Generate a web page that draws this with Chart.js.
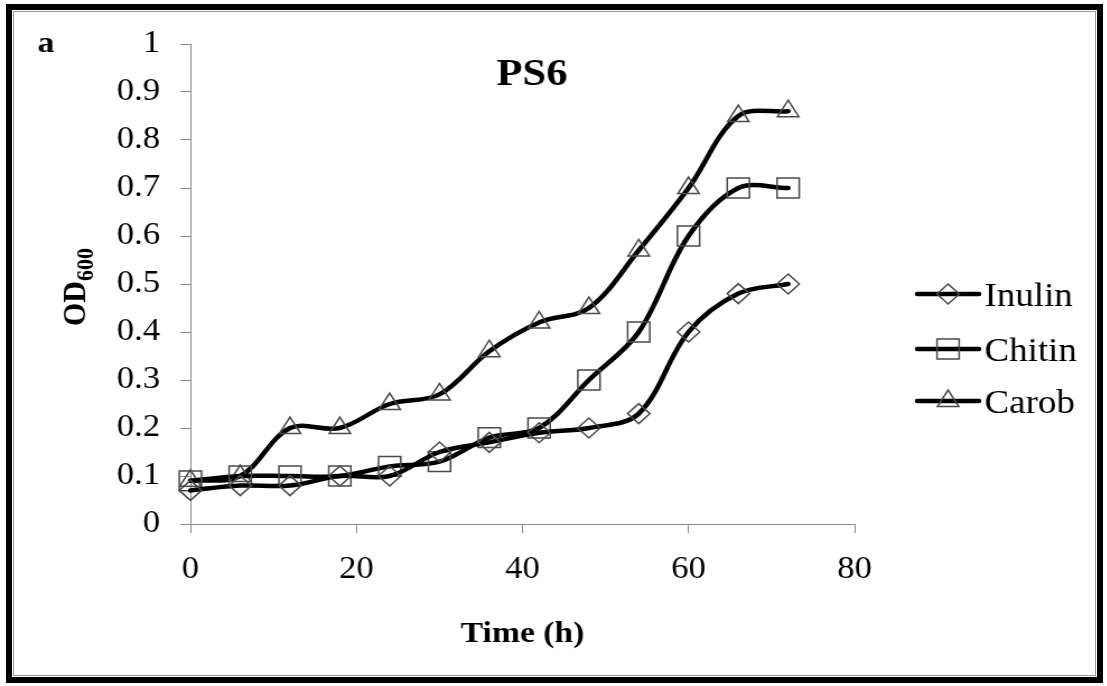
<!DOCTYPE html>
<html>
<head>
<meta charset="utf-8">
<script src="https://cdn.jsdelivr.net/npm/chart.js@4.4.1/dist/chart.umd.min.js"></script>
<style>
  html, body { margin: 0; padding: 0; background: #fff; overflow: hidden; }
  #frame {
    position: absolute; left: 6px; top: 4px; width: 1085px; height: 667px;
    border: 6px solid #000; box-sizing: content-box; z-index: 2; pointer-events: none;
  }
  #frame::after {
    content: ''; position: absolute; left: 1px; top: 1px; right: 1px; bottom: 1px;
    border: 1px solid #9a9a9a;
  }
  /* the original picture is stretched a little sideways */
  #wrap { position: absolute; left: 0; top: 0; width: 988px; height: 686px;
          transform: scaleX(1.12); transform-origin: 0 0; }
</style>
</head>
<body>
<div id="frame"></div>
<div id="wrap"><canvas id="chart" width="988" height="686"></canvas></div>
<script>
// data
const hours  = [0, 6, 12, 18, 24, 30, 36, 42, 48, 54, 60, 66, 72];
const inulin = [0.07, 0.08, 0.08, 0.10, 0.10, 0.15, 0.17, 0.19, 0.20, 0.23, 0.40, 0.48, 0.50];
const chitin = [0.09, 0.10, 0.10, 0.10, 0.12, 0.13, 0.18, 0.20, 0.30, 0.40, 0.60, 0.70, 0.70];
const carob  = [0.09, 0.10, 0.20, 0.20, 0.25, 0.27, 0.36, 0.42, 0.45, 0.57, 0.70, 0.85, 0.86];
const seriesNames = ['Inulin', 'Chitin', 'Carob'];
const xTicks = [0, 20, 40, 60, 80];
const yTicks = [0, 0.1, 0.2, 0.3, 0.4, 0.5, 0.6, 0.7, 0.8, 0.9, 1];

const FONT = "'Liberation Serif', 'Times New Roman', serif";
const markerColor = '#4a4a4a';

function series(name, values, style, radius) {
    return {
        label: name,
        data: hours.map((h, i) => ({ x: h, y: values[i] })),
        borderColor: '#000',
        borderWidth: 4.5,
        borderCapStyle: 'round',
        borderJoinStyle: 'round',
        tension: 0.35,
        fill: false,
        clip: false,
        pointStyle: style,
        pointRadius: radius,
        pointBackgroundColor: 'rgba(0,0,0,0)',
        pointBorderColor: markerColor,
        pointBorderWidth: 1.5
    };
}

// marker shapes for the legend (same geometry as Chart.js point styles)
function drawMarker(ctx, style, x, y, r) {
    ctx.beginPath();
    if (style === 'rectRot') {
        ctx.moveTo(x, y - r); ctx.lineTo(x + r, y); ctx.lineTo(x, y + r); ctx.lineTo(x - r, y);
    } else if (style === 'rect') {
        const s = Math.SQRT1_2 * r;
        ctx.rect(x - s, y - s, 2 * s, 2 * s);
    } else {
        for (let k = 0; k < 3; k++) {
            const a = k * 2 * Math.PI / 3;
            const px = x + Math.sin(a) * r, py = y - Math.cos(a) * r;
            if (k === 0) ctx.moveTo(px, py); else ctx.lineTo(px, py);
        }
    }
    ctx.closePath();
    ctx.lineWidth = 1.5;
    ctx.strokeStyle = markerColor;
    ctx.stroke();
}

const extras = {
    id: 'extras',
    afterDraw(chart) {
        const ctx = chart.ctx;
        const area = chart.chartArea;
        ctx.save();
        ctx.fillStyle = '#000';
        ctx.textBaseline = 'alphabetic';

        // panel letter and title
        ctx.textAlign = 'center';
        ctx.font = 'bold 30px ' + FONT;
        ctx.fillText('a', 41, 52);
        ctx.font = 'bold 38px ' + FONT;
        ctx.fillText('PS6', 475, 85);

        // x axis title
        ctx.font = 'bold 30px ' + FONT;
        ctx.fillText('Time (h)', (area.left + area.right) / 2, 642);

        // y axis title with subscript
        ctx.save();
        ctx.translate(76, 326);
        ctx.rotate(-Math.PI / 2);
        ctx.textAlign = 'left';
        ctx.font = 'bold 30px ' + FONT;
        ctx.fillText('OD', 0, 0);
        const w = ctx.measureText('OD').width;
        ctx.font = 'bold 22px ' + FONT;
        ctx.fillText('600', w, 7);
        ctx.restore();

        // legend
        const rowsY = [294, 349, 401];
        chart.data.datasets.forEach((ds, i) => {
            const y = rowsY[i];
            ctx.beginPath();
            ctx.moveTo(819, y);
            ctx.lineTo(874, y);
            ctx.lineWidth = 4.5;
            ctx.lineCap = 'round';
            ctx.strokeStyle = '#000';
            ctx.stroke();
            drawMarker(ctx, ds.pointStyle, 846.5, y, ds.pointRadius);
            ctx.fillStyle = '#000';
            ctx.textAlign = 'left';
            ctx.font = '33px ' + FONT;
            ctx.fillText(ds.label, 879, y + 12);
        });
        ctx.restore();
    }
};

const axisColor = '#8a8a8a';

new Chart(document.getElementById('chart'), {
    type: 'line',
    data: {
        datasets: [
            series(seriesNames[0], inulin, 'rectRot', 10),
            series(seriesNames[1], chitin, 'rect', 14),
            series(seriesNames[2], carob, 'triangle', 11)
        ]
    },
    options: {
        responsive: false,
        animation: false,
        layout: { padding: { left: 0, right: 225, top: 44, bottom: 0 } },
        plugins: { legend: { display: false }, tooltip: { enabled: false } },
        scales: {
            x: {
                type: 'linear',
                min: xTicks[0],
                max: xTicks[xTicks.length - 1],
                afterBuildTicks: (s) => { s.ticks = xTicks.map(v => ({ value: v })); },
                ticks: { color: '#000', font: { family: FONT, size: 31 }, padding: 18, maxRotation: 0 },
                grid: { drawOnChartArea: false, tickLength: 9, color: axisColor, lineWidth: 1 },
                border: { color: axisColor, width: 1 },
                afterFit: (s) => { s.height = 162; }
            },
            y: {
                min: yTicks[0],
                max: yTicks[yTicks.length - 1],
                afterBuildTicks: (s) => { s.ticks = yTicks.map(v => ({ value: v })); },
                ticks: {
                    color: '#000', font: { family: FONT, size: 31 }, padding: 18,
                    callback: (v) => String(+v.toFixed(1))
                },
                grid: { drawOnChartArea: false, tickLength: 9, color: axisColor, lineWidth: 1 },
                border: { color: axisColor, width: 1 },
                afterFit: (s) => { s.width = 170; }
            }
        }
    },
    plugins: [extras]
});
</script>
</body>
</html>
